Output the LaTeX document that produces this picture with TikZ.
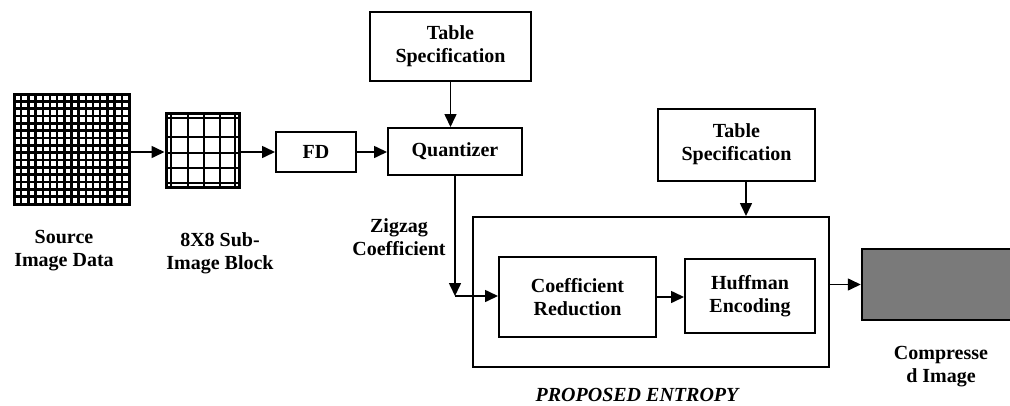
\documentclass[tikz,border=0pt]{standalone}
\usepackage{fontspec}
\setmainfont{Liberation Serif}
\usetikzlibrary{arrows.meta,positioning}
\tikzset{
  box/.style={draw, line width=2pt, inner sep=0pt, align=center, font=\fontsize{20}{23}\selectfont\bfseries},
  lbl/.style={inner sep=0pt, align=center, font=\fontsize{20}{23}\selectfont\bfseries},
  arr/.style={line width=1.6pt, -{Triangle[length=13pt,width=12pt]}},
}
\begin{document}
\begin{tikzpicture}[x=1pt,y=-1pt]
\useasboundingbox (0,0) rectangle (1010,405);
% source image grid
\node[draw, line width=3pt, minimum width=115pt, minimum height=110pt, inner sep=0pt] (src) at (71.5,149) {};
\foreach \i in {1,...,15} {
  \draw[line width=2.4pt] ({14+\i*115/16},94) -- ({14+\i*115/16},204);
}
\foreach \j in {1,...,14} {
  \draw[line width=2.4pt] (14,{94+\j*110/15}) -- (129,{94+\j*110/15});
}
% sub-image block
\node[draw, line width=3pt, minimum width=73pt, minimum height=74pt, inner sep=0pt] (sub) at (202.5,150) {};
\foreach \x in {171,188,204,220,235} {
  \draw[line width=2.4pt] (\x,113) -- (\x,187);
}
\foreach \y in {118,137,153,168,183} {
  \draw[line width=2.4pt] (166,\y) -- (239,\y);
}
% boxes
\node[box, minimum width=80pt, minimum height=40pt] (fd) at (316,152) {FD};
\node[box, minimum width=134pt, minimum height=47pt] (quant) at (455,151.5) {Quantizer};
\node[box, minimum width=161pt, minimum height=69pt] (ts1) at (450.5,46.5) {Table\\Specification};
\node[box, minimum width=157pt, minimum height=72pt] (ts2) at (736.5,144.5) {Table\\Specification};
\node[draw, line width=2pt, minimum width=356pt, minimum height=150pt, inner sep=0pt] (outer) at (651,292) {};
\node[box, minimum width=157pt, minimum height=80pt] (cr) at (577.5,297) {Coefficient\\Reduction};
\node[box, minimum width=130pt, minimum height=74pt] (he) at (750,296) {Huffman\\Encoding};
\node[draw, line width=2.5pt, fill=black!52, minimum width=150pt, minimum height=71pt, inner sep=0pt] (comp) at (937,284.5) {};
% labels
\node[lbl] (lsrc) at (64,251) {Source\\Image Data};
\node[lbl] (lsub) at (220,253.5) {8X8 Sub-\\Image Block};
\node[lbl] (lzz) at (399,237.5) {Zigzag\\Coefficient};
\node[lbl] (lcomp) at (941,367) {Compresse\\d Image};
\node[inner sep=0pt, font=\fontsize{20}{23}\selectfont\bfseries\itshape] (lpe) at (637,395) {PROPOSED ENTROPY};
% connectors
\draw[arr] (src.east |- fd.west) -- (sub.west |- fd.west);
\draw[arr] (sub.east |- fd.west) -- (fd.west);
\draw[arr] (fd.east) -- (quant.west |- fd.east);
\draw[arr] (ts1.south) -- (ts1.south |- quant.north);
\coordinate (zz) at (455,296);
\draw[arr] (quant.south -| zz) -- (zz);
\draw[arr] (zz) -- (cr.west |- zz);
\draw[arr] (cr.east) -- (cr.east -| he.west);
\coordinate (t2) at ([xshift=9.5pt]ts2.south);
\draw[arr] (t2) -- (t2 |- outer.north);
\draw[arr] (outer.east |- comp.west) -- (comp.west);
\end{tikzpicture}
\end{document}
